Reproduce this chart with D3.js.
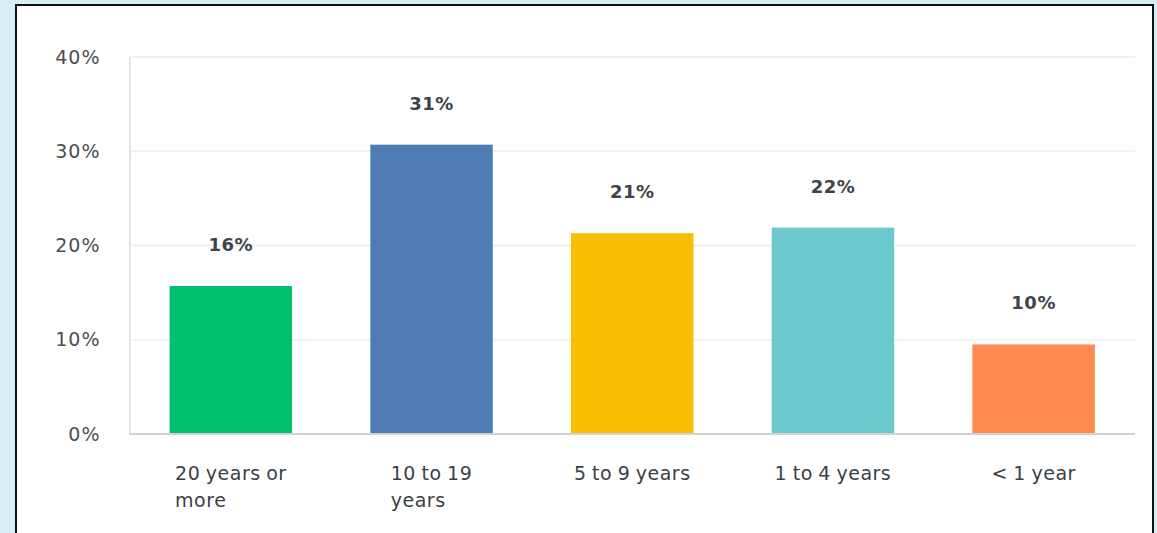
<!DOCTYPE html>
<html>
<head>
<meta charset="utf-8">
<script src="https://cdn.jsdelivr.net/npm/d3@7"></script>
<style>
  html, body { margin: 0; padding: 0; background: #d6eef4; }
  svg { display: block; }
  text { font-family: "DejaVu Sans", sans-serif; }
</style>
</head>
<body>
<svg id="chart" width="1157" height="533"></svg>
<script>
// Time with organisation, share of respondents
const categories = ["20 years or more", "10 to 19 years", "5 to 9 years", "1 to 4 years", "< 1 year"];
const shares = [15.7, 30.7, 21.3, 21.9, 9.5];
const barColors = ["#00bf6f", "#507cb6", "#f9be00", "#6bc8cd", "#ff8b4f"];
const yTicks = [0, 10, 20, 30, 40];

const svg = d3.select("#chart");
const W = 1157, H = 533;

// white card with dark frame
svg.append("rect")
  .attr("x", 16).attr("y", 5)
  .attr("width", 1137).attr("height", H + 10)
  .attr("fill", "#fff")
  .attr("stroke", "#111").attr("stroke-width", 2);

const plot = { left: 129.5, right: 1135, top: 57, bottom: 434 };

const x = d3.scaleBand()
  .domain(categories)
  .range([plot.left, plot.right])
  .paddingInner(0.39)
  .paddingOuter(0.2);

const y = d3.scaleLinear()
  .domain([0, 40])
  .range([plot.bottom, plot.top]);

// horizontal gridlines
svg.append("g")
  .selectAll("line")
  .data(yTicks.filter(t => t > 0))
  .join("line")
  .attr("x1", plot.left).attr("x2", plot.right)
  .attr("y1", d => y(d)).attr("y2", d => y(d))
  .attr("stroke", "#f1f1f1").attr("stroke-width", 2);

// y axis
const yAxis = svg.append("g")
  .attr("transform", `translate(${plot.left},0)`)
  .call(d3.axisLeft(y).tickValues(yTicks).tickSize(0).tickPadding(29).tickFormat(d => d + "%"));
yAxis.select(".domain").attr("stroke", "#e4e4e4").attr("stroke-width", 2);
yAxis.selectAll("text")
  .attr("font-size", 19)
  .attr("letter-spacing", 1)
  .attr("fill", "#4a4f55")
  .attr("font-family", "DejaVu Sans, sans-serif");

// bars
svg.append("g")
  .selectAll("rect")
  .data(categories)
  .join("rect")
  .attr("x", d => x(d))
  .attr("width", x.bandwidth())
  .attr("y", (d, i) => y(shares[i]))
  .attr("height", (d, i) => y(0) - y(shares[i]))
  .attr("fill", (d, i) => barColors[i]);

// baseline
svg.append("line")
  .attr("x1", plot.left).attr("x2", plot.right)
  .attr("y1", plot.bottom).attr("y2", plot.bottom)
  .attr("stroke", "#d2d2d2").attr("stroke-width", 2);

// value labels
svg.append("g")
  .selectAll("text")
  .data(categories)
  .join("text")
  .attr("x", d => x(d) + x.bandwidth() / 2)
  .attr("y", (d, i) => y(shares[i]) - 35)
  .attr("text-anchor", "middle")
  .attr("font-size", 18)
  .attr("letter-spacing", 0.5)
  .attr("font-weight", 600)
  .attr("fill", "#3f444a")
  .text((d, i) => Math.round(shares[i]) + "%");

// category labels, wrapped near bar width, block centred under the bar
const catG = svg.append("g");
categories.forEach(cat => {
  const words = cat.split(" ");
  const maxW = x.bandwidth() + 10;
  const t = catG.append("text")
    .attr("font-size", 19)
    .attr("letter-spacing", 0.5)
    .attr("word-spacing", -1)
    .attr("fill", "#3a3f45");
  const lines = [];
  let line = [];
  const probe = t.append("tspan");
  words.forEach(w => {
    probe.text(line.concat(w).join(" "));
    if (probe.node().getComputedTextLength() > maxW && line.length) {
      lines.push(line.join(" "));
      line = [w];
    } else {
      line.push(w);
    }
  });
  lines.push(line.join(" "));
  probe.remove();
  const spans = lines.map((l, i) => t.append("tspan").attr("y", 480 + i * 27).text(l));
  const widest = d3.max(spans, s => s.node().getComputedTextLength());
  const left = x(cat) + x.bandwidth() / 2 - widest / 2;
  spans.forEach(s => s.attr("x", left));
});
</script>
</body>
</html>
